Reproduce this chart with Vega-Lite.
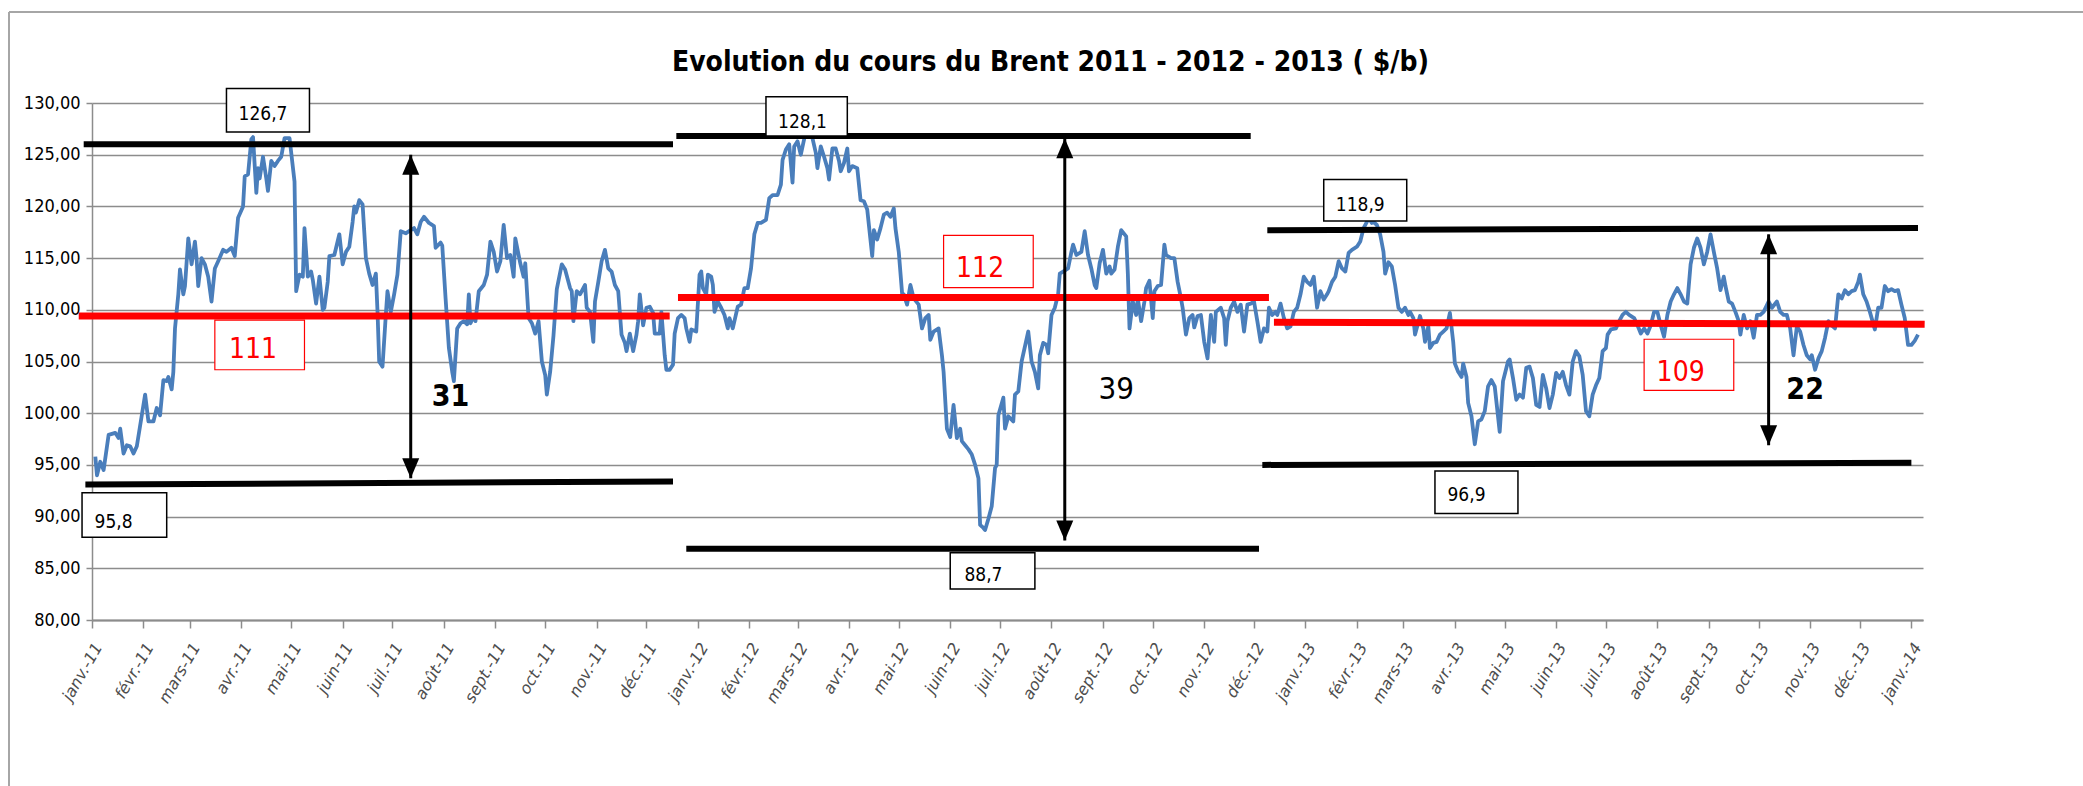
{
  "$schema": "https://vega.github.io/schema/vega-lite/v6.json",
  "width": 1831,
  "height": 517,
  "autosize": {"type": "none"},
  "padding": {"left": 92, "top": 103, "right": 160, "bottom": 166},
  "background": "white",
  "title": {
    "text": "Evolution du cours du Brent 2011 - 2012 - 2013 ( $/b)",
    "font": "Liberation Sans Narrow, Arial Narrow, DejaVu Sans Condensed, sans-serif",
    "fontSize": 28,
    "fontWeight": "bold",
    "color": "black",
    "anchor": "middle",
    "frame": "group",
    "dx": 43,
    "dy": 80,
    "offset": 14
  },
  "config": {
    "view": {"stroke": null}
  },
  "datasets": {
    "brent": [
      {"d":"2011-01-03","v":95.8},{"d":"2011-01-04","v":94.0},{"d":"2011-01-06","v":95.3},{"d":"2011-01-08","v":94.5},{"d":"2011-01-11","v":97.9},{"d":"2011-01-15","v":98.1},{"d":"2011-01-17","v":97.6},{"d":"2011-01-18","v":98.5},{"d":"2011-01-20","v":96.1},{"d":"2011-01-22","v":96.9},{"d":"2011-01-24","v":96.8},{"d":"2011-01-26","v":96.1},{"d":"2011-01-28","v":96.8},{"d":"2011-01-31","v":99.8},
      {"d":"2011-02-02","v":101.8},{"d":"2011-02-04","v":99.2},{"d":"2011-02-07","v":99.2},{"d":"2011-02-09","v":100.5},{"d":"2011-02-11","v":99.8},{"d":"2011-02-13","v":103.2},{"d":"2011-02-15","v":103.1},{"d":"2011-02-16","v":103.5},{"d":"2011-02-18","v":102.3},{"d":"2011-02-19","v":104.0},{"d":"2011-02-20","v":108.2},{"d":"2011-02-22","v":111.5},{"d":"2011-02-23","v":113.9},{"d":"2011-02-25","v":111.5},{"d":"2011-02-26","v":112.3},{"d":"2011-02-28","v":116.9},
      {"d":"2011-03-02","v":114.4},{"d":"2011-03-04","v":116.6},{"d":"2011-03-05","v":115.0},{"d":"2011-03-06","v":112.3},{"d":"2011-03-08","v":115.0},{"d":"2011-03-10","v":114.4},{"d":"2011-03-12","v":113.2},{"d":"2011-03-14","v":110.8},{"d":"2011-03-16","v":114.0},{"d":"2011-03-18","v":114.7},{"d":"2011-03-21","v":115.8},{"d":"2011-03-23","v":115.6},{"d":"2011-03-26","v":116.0},{"d":"2011-03-28","v":115.2},{"d":"2011-03-30","v":118.9},
      {"d":"2011-04-02","v":120.0},{"d":"2011-04-03","v":122.9},{"d":"2011-04-05","v":123.1},{"d":"2011-04-07","v":126.5},{"d":"2011-04-08","v":126.7},{"d":"2011-04-10","v":121.3},{"d":"2011-04-11","v":123.7},{"d":"2011-04-12","v":122.7},{"d":"2011-04-14","v":124.8},{"d":"2011-04-16","v":122.7},{"d":"2011-04-17","v":121.5},{"d":"2011-04-19","v":124.4},{"d":"2011-04-21","v":123.9},{"d":"2011-04-23","v":124.4},{"d":"2011-04-25","v":124.8},{"d":"2011-04-27","v":126.6},{"d":"2011-04-30","v":126.6},
      {"d":"2011-05-03","v":122.4},{"d":"2011-05-04","v":111.8},{"d":"2011-05-06","v":113.4},{"d":"2011-05-08","v":113.2},{"d":"2011-05-09","v":117.9},{"d":"2011-05-11","v":113.2},{"d":"2011-05-13","v":113.7},{"d":"2011-05-14","v":112.9},{"d":"2011-05-16","v":110.6},{"d":"2011-05-18","v":113.2},{"d":"2011-05-20","v":110.0},{"d":"2011-05-21","v":110.2},{"d":"2011-05-23","v":112.7},{"d":"2011-05-24","v":115.2},{"d":"2011-05-27","v":115.3},{"d":"2011-05-30","v":117.3},
      {"d":"2011-06-01","v":114.4},{"d":"2011-06-03","v":115.6},{"d":"2011-06-05","v":116.1},{"d":"2011-06-07","v":118.5},{"d":"2011-06-08","v":120.0},{"d":"2011-06-09","v":119.4},{"d":"2011-06-11","v":120.6},{"d":"2011-06-13","v":120.2},{"d":"2011-06-15","v":115.0},{"d":"2011-06-17","v":113.5},{"d":"2011-06-19","v":112.4},{"d":"2011-06-21","v":113.5},{"d":"2011-06-22","v":109.8},{"d":"2011-06-23","v":105.0},{"d":"2011-06-25","v":104.5},{"d":"2011-06-27","v":109.5},{"d":"2011-06-28","v":111.8},{"d":"2011-06-30","v":109.8},
      {"d":"2011-07-02","v":111.5},{"d":"2011-07-04","v":113.4},{"d":"2011-07-06","v":117.6},{"d":"2011-07-09","v":117.4},{"d":"2011-07-11","v":117.6},{"d":"2011-07-14","v":117.9},{"d":"2011-07-16","v":117.3},{"d":"2011-07-18","v":118.5},{"d":"2011-07-20","v":119.0},{"d":"2011-07-23","v":118.4},{"d":"2011-07-26","v":118.1},{"d":"2011-07-27","v":116.0},{"d":"2011-07-30","v":116.5},{"d":"2011-07-31","v":116.2},
      {"d":"2011-08-02","v":111.1},{"d":"2011-08-04","v":106.3},{"d":"2011-08-06","v":104.0},{"d":"2011-08-07","v":103.1},{"d":"2011-08-09","v":108.2},{"d":"2011-08-11","v":108.7},{"d":"2011-08-13","v":108.9},{"d":"2011-08-15","v":108.6},{"d":"2011-08-16","v":111.5},{"d":"2011-08-17","v":108.7},{"d":"2011-08-19","v":109.4},{"d":"2011-08-20","v":108.9},{"d":"2011-08-22","v":111.8},{"d":"2011-08-25","v":112.4},{"d":"2011-08-27","v":113.4},{"d":"2011-08-29","v":116.6},{"d":"2011-08-31","v":115.6},
      {"d":"2011-09-02","v":113.7},{"d":"2011-09-04","v":114.7},{"d":"2011-09-06","v":118.2},{"d":"2011-09-08","v":115.0},{"d":"2011-09-10","v":115.3},{"d":"2011-09-12","v":113.2},{"d":"2011-09-13","v":116.9},{"d":"2011-09-16","v":114.5},{"d":"2011-09-18","v":113.2},{"d":"2011-09-19","v":114.5},{"d":"2011-09-21","v":109.2},{"d":"2011-09-23","v":108.7},{"d":"2011-09-25","v":107.7},{"d":"2011-09-27","v":108.9},{"d":"2011-09-29","v":105.0},
      {"d":"2011-10-01","v":103.7},{"d":"2011-10-02","v":101.8},{"d":"2011-10-04","v":104.0},{"d":"2011-10-06","v":107.5},{"d":"2011-10-08","v":112.0},{"d":"2011-10-11","v":114.4},{"d":"2011-10-13","v":113.9},{"d":"2011-10-16","v":112.1},{"d":"2011-10-17","v":111.8},{"d":"2011-10-18","v":108.9},{"d":"2011-10-20","v":111.8},{"d":"2011-10-22","v":111.5},{"d":"2011-10-25","v":112.4},{"d":"2011-10-26","v":110.2},{"d":"2011-10-28","v":109.8},{"d":"2011-10-30","v":106.9},{"d":"2011-10-31","v":110.8},
      {"d":"2011-11-02","v":112.7},{"d":"2011-11-04","v":114.7},{"d":"2011-11-06","v":115.8},{"d":"2011-11-08","v":114.0},{"d":"2011-11-10","v":113.7},{"d":"2011-11-12","v":112.4},{"d":"2011-11-14","v":111.8},{"d":"2011-11-16","v":107.6},{"d":"2011-11-18","v":106.8},{"d":"2011-11-19","v":106.0},{"d":"2011-11-21","v":107.7},{"d":"2011-11-23","v":106.0},{"d":"2011-11-25","v":107.6},{"d":"2011-11-26","v":108.9},{"d":"2011-11-27","v":111.5},{"d":"2011-11-29","v":108.5},
      {"d":"2011-12-01","v":110.2},{"d":"2011-12-03","v":110.3},{"d":"2011-12-05","v":109.7},{"d":"2011-12-06","v":107.7},{"d":"2011-12-09","v":107.7},{"d":"2011-12-10","v":109.8},{"d":"2011-12-12","v":105.6},{"d":"2011-12-13","v":104.2},{"d":"2011-12-15","v":104.2},{"d":"2011-12-17","v":104.7},{"d":"2011-12-18","v":107.7},{"d":"2011-12-20","v":109.2},{"d":"2011-12-22","v":109.5},{"d":"2011-12-24","v":109.2},{"d":"2011-12-25","v":108.2},{"d":"2011-12-27","v":106.9},{"d":"2011-12-28","v":108.1},{"d":"2011-12-31","v":107.9},
      {"d":"2012-01-02","v":113.4},{"d":"2012-01-03","v":113.7},{"d":"2012-01-04","v":112.1},{"d":"2012-01-06","v":111.5},{"d":"2012-01-07","v":113.4},{"d":"2012-01-09","v":113.2},{"d":"2012-01-10","v":112.4},{"d":"2012-01-11","v":109.8},{"d":"2012-01-13","v":110.8},{"d":"2012-01-15","v":110.2},{"d":"2012-01-17","v":109.5},{"d":"2012-01-19","v":108.2},{"d":"2012-01-20","v":109.2},{"d":"2012-01-22","v":108.2},{"d":"2012-01-23","v":108.9},{"d":"2012-01-25","v":110.3},{"d":"2012-01-27","v":110.5},{"d":"2012-01-29","v":112.1},{"d":"2012-01-31","v":112.1},
      {"d":"2012-02-02","v":114.0},{"d":"2012-02-04","v":117.3},{"d":"2012-02-06","v":118.4},{"d":"2012-02-08","v":118.4},{"d":"2012-02-11","v":118.7},{"d":"2012-02-13","v":120.8},{"d":"2012-02-15","v":121.1},{"d":"2012-02-18","v":121.1},{"d":"2012-02-20","v":122.1},{"d":"2012-02-21","v":124.5},{"d":"2012-02-23","v":125.5},{"d":"2012-02-25","v":126.0},{"d":"2012-02-27","v":122.3},{"d":"2012-02-28","v":125.8},
      {"d":"2012-03-01","v":126.3},{"d":"2012-03-03","v":125.0},{"d":"2012-03-05","v":126.5},{"d":"2012-03-07","v":128.1},{"d":"2012-03-10","v":126.6},{"d":"2012-03-12","v":125.2},{"d":"2012-03-13","v":123.7},{"d":"2012-03-15","v":125.8},{"d":"2012-03-17","v":124.8},{"d":"2012-03-19","v":123.7},{"d":"2012-03-20","v":122.6},{"d":"2012-03-22","v":125.6},{"d":"2012-03-24","v":125.6},{"d":"2012-03-26","v":124.4},{"d":"2012-03-27","v":123.4},{"d":"2012-03-29","v":124.2},{"d":"2012-03-31","v":125.6},
      {"d":"2012-04-01","v":123.4},{"d":"2012-04-03","v":123.9},{"d":"2012-04-06","v":123.7},{"d":"2012-04-08","v":120.6},{"d":"2012-04-10","v":120.5},{"d":"2012-04-12","v":119.7},{"d":"2012-04-15","v":115.2},{"d":"2012-04-16","v":117.7},{"d":"2012-04-18","v":116.8},{"d":"2012-04-20","v":117.9},{"d":"2012-04-22","v":119.2},{"d":"2012-04-24","v":119.4},{"d":"2012-04-26","v":119.0},{"d":"2012-04-28","v":119.8},{"d":"2012-04-29","v":117.9},
      {"d":"2012-05-01","v":115.6},{"d":"2012-05-03","v":111.6},{"d":"2012-05-04","v":111.5},{"d":"2012-05-06","v":110.5},{"d":"2012-05-08","v":112.4},{"d":"2012-05-10","v":111.1},{"d":"2012-05-13","v":110.5},{"d":"2012-05-15","v":108.2},{"d":"2012-05-17","v":109.2},{"d":"2012-05-19","v":109.5},{"d":"2012-05-20","v":107.1},{"d":"2012-05-22","v":107.9},{"d":"2012-05-25","v":108.2},{"d":"2012-05-27","v":105.6},{"d":"2012-05-28","v":104.0},{"d":"2012-05-30","v":98.5},
      {"d":"2012-06-01","v":97.7},{"d":"2012-06-03","v":100.8},{"d":"2012-06-05","v":97.6},{"d":"2012-06-07","v":98.5},{"d":"2012-06-08","v":97.3},{"d":"2012-06-10","v":96.9},{"d":"2012-06-12","v":96.5},{"d":"2012-06-14","v":96.0},{"d":"2012-06-16","v":95.0},{"d":"2012-06-18","v":93.7},{"d":"2012-06-19","v":89.2},{"d":"2012-06-21","v":88.9},{"d":"2012-06-22","v":88.7},{"d":"2012-06-24","v":89.8},{"d":"2012-06-26","v":91.0},{"d":"2012-06-28","v":94.7},{"d":"2012-06-29","v":95.0},{"d":"2012-06-30","v":99.8},
      {"d":"2012-07-03","v":101.5},{"d":"2012-07-04","v":98.5},{"d":"2012-07-06","v":99.7},{"d":"2012-07-09","v":99.2},{"d":"2012-07-10","v":101.8},{"d":"2012-07-12","v":102.1},{"d":"2012-07-14","v":105.0},{"d":"2012-07-18","v":107.9},{"d":"2012-07-20","v":105.0},{"d":"2012-07-22","v":104.0},{"d":"2012-07-24","v":102.4},{"d":"2012-07-25","v":105.6},{"d":"2012-07-27","v":106.8},{"d":"2012-07-29","v":106.6},{"d":"2012-07-30","v":105.8},
      {"d":"2012-08-01","v":109.5},{"d":"2012-08-03","v":110.2},{"d":"2012-08-05","v":111.5},{"d":"2012-08-06","v":113.5},{"d":"2012-08-08","v":113.7},{"d":"2012-08-11","v":114.0},{"d":"2012-08-13","v":115.6},{"d":"2012-08-14","v":116.3},{"d":"2012-08-16","v":115.3},{"d":"2012-08-19","v":115.6},{"d":"2012-08-21","v":117.6},{"d":"2012-08-23","v":115.3},{"d":"2012-08-25","v":114.0},{"d":"2012-08-27","v":112.4},{"d":"2012-08-28","v":112.1},{"d":"2012-08-30","v":114.5},
      {"d":"2012-09-01","v":115.8},{"d":"2012-09-03","v":113.5},{"d":"2012-09-05","v":114.2},{"d":"2012-09-06","v":113.5},{"d":"2012-09-08","v":113.9},{"d":"2012-09-10","v":116.1},{"d":"2012-09-12","v":117.7},{"d":"2012-09-15","v":117.1},{"d":"2012-09-16","v":113.5},{"d":"2012-09-17","v":108.2},{"d":"2012-09-19","v":110.8},{"d":"2012-09-21","v":109.5},{"d":"2012-09-22","v":111.1},{"d":"2012-09-24","v":108.9},{"d":"2012-09-26","v":110.8},{"d":"2012-09-27","v":112.1},{"d":"2012-09-29","v":112.8},
      {"d":"2012-10-01","v":109.2},{"d":"2012-10-02","v":111.8},{"d":"2012-10-04","v":112.3},{"d":"2012-10-06","v":112.4},{"d":"2012-10-08","v":116.3},{"d":"2012-10-09","v":115.3},{"d":"2012-10-12","v":115.0},{"d":"2012-10-14","v":115.0},{"d":"2012-10-16","v":112.7},{"d":"2012-10-18","v":111.1},{"d":"2012-10-19","v":110.2},{"d":"2012-10-21","v":107.6},{"d":"2012-10-23","v":109.2},{"d":"2012-10-25","v":109.5},{"d":"2012-10-26","v":108.3},{"d":"2012-10-28","v":109.4},{"d":"2012-10-30","v":109.5},
      {"d":"2012-11-01","v":106.9},{"d":"2012-11-03","v":105.3},{"d":"2012-11-05","v":109.5},{"d":"2012-11-07","v":106.9},{"d":"2012-11-08","v":109.8},{"d":"2012-11-11","v":110.2},{"d":"2012-11-13","v":109.2},{"d":"2012-11-14","v":106.6},{"d":"2012-11-15","v":108.9},{"d":"2012-11-17","v":110.2},{"d":"2012-11-19","v":110.8},{"d":"2012-11-21","v":109.8},{"d":"2012-11-23","v":110.5},{"d":"2012-11-25","v":107.9},{"d":"2012-11-27","v":110.5},{"d":"2012-11-29","v":110.6},
      {"d":"2012-12-01","v":110.8},{"d":"2012-12-03","v":108.9},{"d":"2012-12-05","v":106.9},{"d":"2012-12-07","v":108.2},{"d":"2012-12-09","v":107.9},{"d":"2012-12-10","v":110.2},{"d":"2012-12-12","v":109.5},{"d":"2012-12-14","v":109.8},{"d":"2012-12-15","v":109.5},{"d":"2012-12-17","v":110.6},{"d":"2012-12-19","v":109.2},{"d":"2012-12-21","v":108.2},{"d":"2012-12-23","v":108.4},{"d":"2012-12-25","v":109.8},{"d":"2012-12-27","v":110.2},{"d":"2012-12-29","v":111.5},{"d":"2012-12-31","v":113.2},
      {"d":"2013-01-02","v":112.7},{"d":"2013-01-04","v":112.4},{"d":"2013-01-06","v":113.2},{"d":"2013-01-08","v":110.2},{"d":"2013-01-10","v":111.8},{"d":"2013-01-12","v":111.0},{"d":"2013-01-14","v":111.5},{"d":"2013-01-15","v":111.8},{"d":"2013-01-17","v":112.7},{"d":"2013-01-19","v":113.2},{"d":"2013-01-21","v":114.7},{"d":"2013-01-23","v":114.0},{"d":"2013-01-25","v":113.7},{"d":"2013-01-27","v":115.5},{"d":"2013-01-29","v":115.8},
      {"d":"2013-02-01","v":116.1},{"d":"2013-02-03","v":116.6},{"d":"2013-02-05","v":117.9},{"d":"2013-02-07","v":118.5},{"d":"2013-02-08","v":118.9},{"d":"2013-02-10","v":118.4},{"d":"2013-02-11","v":118.5},{"d":"2013-02-13","v":118.2},{"d":"2013-02-15","v":117.3},{"d":"2013-02-17","v":115.6},{"d":"2013-02-18","v":113.5},{"d":"2013-02-20","v":114.6},{"d":"2013-02-22","v":114.2},{"d":"2013-02-24","v":112.4},{"d":"2013-02-26","v":110.2},{"d":"2013-02-28","v":109.8},
      {"d":"2013-03-02","v":110.2},{"d":"2013-03-04","v":109.5},{"d":"2013-03-05","v":109.8},{"d":"2013-03-07","v":109.2},{"d":"2013-03-08","v":107.6},{"d":"2013-03-11","v":109.4},{"d":"2013-03-13","v":108.2},{"d":"2013-03-14","v":106.9},{"d":"2013-03-16","v":108.4},{"d":"2013-03-17","v":106.3},{"d":"2013-03-19","v":106.8},{"d":"2013-03-21","v":106.9},{"d":"2013-03-23","v":107.6},{"d":"2013-03-25","v":107.9},{"d":"2013-03-27","v":108.2},{"d":"2013-03-29","v":109.7},{"d":"2013-03-31","v":106.9},
      {"d":"2013-04-01","v":104.8},{"d":"2013-04-03","v":104.0},{"d":"2013-04-05","v":103.5},{"d":"2013-04-06","v":104.8},{"d":"2013-04-08","v":103.5},{"d":"2013-04-09","v":101.0},{"d":"2013-04-11","v":99.7},{"d":"2013-04-13","v":97.0},{"d":"2013-04-15","v":99.2},{"d":"2013-04-17","v":99.4},{"d":"2013-04-19","v":100.2},{"d":"2013-04-21","v":102.6},{"d":"2013-04-23","v":103.2},{"d":"2013-04-25","v":102.6},{"d":"2013-04-28","v":98.2},{"d":"2013-04-30","v":103.1},
      {"d":"2013-05-03","v":105.0},{"d":"2013-05-04","v":105.2},{"d":"2013-05-06","v":103.4},{"d":"2013-05-08","v":101.3},{"d":"2013-05-10","v":101.8},{"d":"2013-05-12","v":101.5},{"d":"2013-05-14","v":104.4},{"d":"2013-05-16","v":104.5},{"d":"2013-05-18","v":103.4},{"d":"2013-05-20","v":100.8},{"d":"2013-05-22","v":100.6},{"d":"2013-05-24","v":103.7},{"d":"2013-05-26","v":102.4},{"d":"2013-05-28","v":100.5},{"d":"2013-05-30","v":101.8},
      {"d":"2013-06-01","v":103.9},{"d":"2013-06-03","v":103.4},{"d":"2013-06-05","v":104.0},{"d":"2013-06-07","v":102.7},{"d":"2013-06-09","v":101.8},{"d":"2013-06-11","v":105.0},{"d":"2013-06-13","v":106.0},{"d":"2013-06-15","v":105.5},{"d":"2013-06-17","v":103.7},{"d":"2013-06-19","v":100.2},{"d":"2013-06-21","v":99.7},{"d":"2013-06-23","v":101.8},{"d":"2013-06-25","v":102.7},{"d":"2013-06-27","v":103.4},{"d":"2013-06-29","v":106.0},
      {"d":"2013-07-01","v":106.3},{"d":"2013-07-02","v":107.6},{"d":"2013-07-04","v":108.1},{"d":"2013-07-07","v":108.2},{"d":"2013-07-09","v":108.9},{"d":"2013-07-11","v":109.5},{"d":"2013-07-13","v":109.8},{"d":"2013-07-15","v":109.5},{"d":"2013-07-18","v":109.2},{"d":"2013-07-20","v":108.5},{"d":"2013-07-22","v":107.7},{"d":"2013-07-24","v":108.2},{"d":"2013-07-26","v":107.7},{"d":"2013-07-28","v":108.5},{"d":"2013-07-30","v":109.8},
      {"d":"2013-08-01","v":109.8},{"d":"2013-08-03","v":108.5},{"d":"2013-08-05","v":107.4},{"d":"2013-08-07","v":109.5},{"d":"2013-08-09","v":110.8},{"d":"2013-08-11","v":111.5},{"d":"2013-08-13","v":112.1},{"d":"2013-08-15","v":111.5},{"d":"2013-08-17","v":110.8},{"d":"2013-08-19","v":110.6},{"d":"2013-08-21","v":114.4},{"d":"2013-08-23","v":116.0},{"d":"2013-08-25","v":116.9},{"d":"2013-08-27","v":116.0},{"d":"2013-08-29","v":114.4},{"d":"2013-08-31","v":115.6},
      {"d":"2013-09-02","v":117.3},{"d":"2013-09-04","v":115.6},{"d":"2013-09-06","v":114.0},{"d":"2013-09-08","v":111.9},{"d":"2013-09-10","v":113.2},{"d":"2013-09-11","v":112.3},{"d":"2013-09-13","v":110.8},{"d":"2013-09-15","v":110.6},{"d":"2013-09-17","v":109.8},{"d":"2013-09-19","v":108.9},{"d":"2013-09-20","v":107.6},{"d":"2013-09-22","v":109.5},{"d":"2013-09-24","v":108.2},{"d":"2013-09-26","v":108.9},{"d":"2013-09-28","v":107.3},{"d":"2013-09-30","v":109.5},
      {"d":"2013-10-02","v":109.5},{"d":"2013-10-04","v":109.8},{"d":"2013-10-07","v":110.8},{"d":"2013-10-09","v":110.2},{"d":"2013-10-12","v":110.8},{"d":"2013-10-14","v":109.8},{"d":"2013-10-16","v":109.5},{"d":"2013-10-18","v":109.5},{"d":"2013-10-20","v":108.2},{"d":"2013-10-22","v":105.6},{"d":"2013-10-24","v":108.4},{"d":"2013-10-26","v":107.9},{"d":"2013-10-28","v":106.6},{"d":"2013-10-30","v":105.6},
      {"d":"2013-11-01","v":105.2},{"d":"2013-11-02","v":105.6},{"d":"2013-11-04","v":104.2},{"d":"2013-11-06","v":105.3},{"d":"2013-11-08","v":106.0},{"d":"2013-11-10","v":107.3},{"d":"2013-11-12","v":108.9},{"d":"2013-11-14","v":108.5},{"d":"2013-11-16","v":108.2},{"d":"2013-11-18","v":111.5},{"d":"2013-11-20","v":111.1},{"d":"2013-11-22","v":111.9},{"d":"2013-11-24","v":111.5},{"d":"2013-11-26","v":111.8},{"d":"2013-11-28","v":111.9},{"d":"2013-11-30","v":112.7},
      {"d":"2013-12-01","v":113.4},{"d":"2013-12-03","v":111.5},{"d":"2013-12-05","v":110.8},{"d":"2013-12-07","v":109.8},{"d":"2013-12-10","v":108.1},{"d":"2013-12-12","v":110.2},{"d":"2013-12-14","v":110.2},{"d":"2013-12-16","v":112.3},{"d":"2013-12-18","v":111.8},{"d":"2013-12-20","v":112.0},{"d":"2013-12-22","v":111.8},{"d":"2013-12-24","v":111.9},{"d":"2013-12-26","v":110.5},{"d":"2013-12-28","v":109.2},{"d":"2013-12-30","v":106.6},
      {"d":"2014-01-01","v":106.6},{"d":"2014-01-03","v":107.0},{"d":"2014-01-05","v":107.6}
    ],
    "blackLines": [
      {"x1":"2010-12-27","x2":"2011-12-17","y1":126.0,"y2":126.0},
      {"x1":"2010-12-28","x2":"2011-12-17","y1":93.1,"y2":93.4},
      {"x1":"2011-12-19","x2":"2012-11-29","y1":126.8,"y2":126.8},
      {"x1":"2011-12-25","x2":"2012-12-04","y1":86.9,"y2":86.9},
      {"x1":"2012-12-09","x2":"2014-01-05","y1":117.7,"y2":117.9},
      {"x1":"2012-12-06","x2":"2014-01-01","y1":95.0,"y2":95.2}
    ],
    "redLines": [
      {"x1":"2010-12-24","x2":"2011-12-15","y1":109.4,"y2":109.4},
      {"x1":"2011-12-20","x2":"2012-12-10","y1":111.2,"y2":111.2},
      {"x1":"2012-12-13","x2":"2014-01-09","y1":108.8,"y2":108.6}
    ],
    "frame": [
      {"x1":"2010-11-12","x2":"2014-04-20","y1":138.8,"y2":138.8},
      {"x1":"2010-11-12","x2":"2010-11-12","y1":138.8,"y2":60}
    ],
    "arrows": [
      {"d":"2011-07-12","top":125.0,"bottom":93.7},
      {"d":"2012-08-09","top":126.6,"bottom":87.7},
      {"d":"2013-10-07","top":117.3,"bottom":96.9}
    ],
    "blackBoxes": [
      {"x1":"2011-03-23","x2":"2011-05-12","y1":131.4,"y2":127.2,"t":"126,7","td":"2011-04-14","tv":128.9},
      {"x1":"2010-12-26","x2":"2011-02-15","y1":92.3,"y2":88.0,"t":"95,8","td":"2011-01-14","tv":89.5},
      {"x1":"2012-02-11","x2":"2012-03-31","y1":130.6,"y2":126.8,"t":"128,1","td":"2012-03-04","tv":128.2},
      {"x1":"2012-06-01","x2":"2012-07-22","y1":86.5,"y2":83.0,"t":"88,7","td":"2012-06-21","tv":84.4},
      {"x1":"2013-01-12","x2":"2013-03-03","y1":122.6,"y2":118.6,"t":"118,9","td":"2013-02-03","tv":120.1},
      {"x1":"2013-03-20","x2":"2013-05-09","y1":94.4,"y2":90.3,"t":"96,9","td":"2013-04-08","tv":92.1}
    ],
    "redBoxes": [
      {"x1":"2011-03-16","x2":"2011-05-09","y1":109.0,"y2":104.2,"t":"111","td":"2011-04-08","tv":106.1},
      {"x1":"2012-05-28","x2":"2012-07-21","y1":117.2,"y2":112.15,"t":"112","td":"2012-06-19","tv":113.9},
      {"x1":"2013-07-24","x2":"2013-09-16","y1":107.15,"y2":102.2,"t":"109","td":"2013-08-15","tv":103.9}
    ],
    "ranges": [
      {"d":"2011-08-05","v":101.6,"t":"31","w":"bold"},
      {"d":"2012-09-09","v":102.25,"t":"39","w":"normal"},
      {"d":"2013-10-29","v":102.25,"t":"22","w":"bold"}
    ]
  },
  "layer": [
    {
      "data": {"name": "brent"},
      "mark": {"type": "line", "color": "#4a7ebb", "strokeWidth": 3.8, "strokeJoin": "round"},
      "encoding": {
        "x": {
          "field": "d", "type": "temporal", "title": null,
          "scale": {"type": "utc", "domain": [{"year": 2011, "month": 1, "date": 1, "utc": true}, {"year": 2014, "month": 1, "date": 8, "utc": true}]},
          "axis": {
            "values": [
              {"year":2011,"month":1,"date":1,"utc":true},{"year":2011,"month":2,"date":1,"utc":true},{"year":2011,"month":3,"date":1,"utc":true},{"year":2011,"month":4,"date":1,"utc":true},{"year":2011,"month":5,"date":1,"utc":true},{"year":2011,"month":6,"date":1,"utc":true},{"year":2011,"month":7,"date":1,"utc":true},{"year":2011,"month":8,"date":1,"utc":true},{"year":2011,"month":9,"date":1,"utc":true},{"year":2011,"month":10,"date":1,"utc":true},{"year":2011,"month":11,"date":1,"utc":true},{"year":2011,"month":12,"date":1,"utc":true},
              {"year":2012,"month":1,"date":1,"utc":true},{"year":2012,"month":2,"date":1,"utc":true},{"year":2012,"month":3,"date":1,"utc":true},{"year":2012,"month":4,"date":1,"utc":true},{"year":2012,"month":5,"date":1,"utc":true},{"year":2012,"month":6,"date":1,"utc":true},{"year":2012,"month":7,"date":1,"utc":true},{"year":2012,"month":8,"date":1,"utc":true},{"year":2012,"month":9,"date":1,"utc":true},{"year":2012,"month":10,"date":1,"utc":true},{"year":2012,"month":11,"date":1,"utc":true},{"year":2012,"month":12,"date":1,"utc":true},
              {"year":2013,"month":1,"date":1,"utc":true},{"year":2013,"month":2,"date":1,"utc":true},{"year":2013,"month":3,"date":1,"utc":true},{"year":2013,"month":4,"date":1,"utc":true},{"year":2013,"month":5,"date":1,"utc":true},{"year":2013,"month":6,"date":1,"utc":true},{"year":2013,"month":7,"date":1,"utc":true},{"year":2013,"month":8,"date":1,"utc":true},{"year":2013,"month":9,"date":1,"utc":true},{"year":2013,"month":10,"date":1,"utc":true},{"year":2013,"month":11,"date":1,"utc":true},{"year":2013,"month":12,"date":1,"utc":true},
              {"year":2014,"month":1,"date":1,"utc":true}
            ],
            "labelExpr": "['janv.','févr.','mars','avr.','mai','juin','juil.','août','sept.','oct.','nov.','déc.'][utcmonth(datum.value)] + '-' + utcFormat(datum.value, '%y')",
            "grid": false,
            "domainColor": "#8c8c8c", "domainWidth": 2,
            "tickColor": "#8c8c8c", "tickWidth": 1.5, "tickSize": 8,
            "labelAngle": -60, "labelAlign": "right", "labelBaseline": "middle",
            "labelPadding": 16, "labelOffset": 6, "labelFont": "DejaVu Sans", "labelFontSize": 16, "labelFontStyle": "italic",
            "labelColor": "#4d4d4d", "labelOverlap": false, "labelFlush": false, "labelBound": false
          }
        },
        "y": {
          "field": "v", "type": "quantitative", "title": null,
          "scale": {"domain": [80, 130], "nice": false, "zero": false},
          "axis": {
            "values": [80, 85, 90, 95, 100, 105, 110, 115, 120, 125, 130],
            "labelExpr": "replace(format(datum.value, '.2f'), '.', ',')",
            "grid": true, "gridColor": "#8c8c8c", "gridWidth": 1.5,
            "domainColor": "#8c8c8c", "domainWidth": 1.5,
            "tickColor": "#8c8c8c", "tickWidth": 1.5, "tickSize": 6,
            "labelFont": "Liberation Sans Narrow, Arial Narrow, DejaVu Sans Condensed, sans-serif",
            "labelFontSize": 18, "labelColor": "black", "labelPadding": 6
          }
        }
      }
    },
    {
      "data": {"name": "frame"},
      "mark": {"type": "rule", "color": "#a6a6a6", "strokeWidth": 2},
      "encoding": {
        "x": {"field": "x1", "type": "temporal", "title": null},
        "x2": {"field": "x2"},
        "y": {"field": "y1", "type": "quantitative", "title": null},
        "y2": {"field": "y2"}
      }
    },
    {
      "data": {"name": "blackLines"},
      "mark": {"type": "rule", "color": "black", "strokeWidth": 6},
      "encoding": {
        "x": {"field": "x1", "type": "temporal", "title": null},
        "x2": {"field": "x2"},
        "y": {"field": "y1", "type": "quantitative", "title": null},
        "y2": {"field": "y2"}
      }
    },
    {
      "data": {"name": "redLines"},
      "mark": {"type": "rule", "color": "#ff0000", "strokeWidth": 7},
      "encoding": {
        "x": {"field": "x1", "type": "temporal", "title": null},
        "x2": {"field": "x2"},
        "y": {"field": "y1", "type": "quantitative", "title": null},
        "y2": {"field": "y2"}
      }
    },
    {
      "data": {"name": "arrows"},
      "mark": {"type": "rule", "color": "black", "strokeWidth": 3},
      "encoding": {
        "x": {"field": "d", "type": "temporal", "title": null},
        "y": {"field": "top", "type": "quantitative", "title": null},
        "y2": {"field": "bottom"}
      }
    },
    {
      "data": {"name": "arrows"},
      "mark": {"type": "point", "shape": "M0,0L0.85,2L-0.85,2Z", "size": 400, "filled": true, "color": "black", "opacity": 1, "strokeWidth": 0},
      "encoding": {
        "x": {"field": "d", "type": "temporal", "title": null},
        "y": {"field": "top", "type": "quantitative", "title": null}
      }
    },
    {
      "data": {"name": "arrows"},
      "mark": {"type": "point", "shape": "M0,0L0.85,-2L-0.85,-2Z", "size": 400, "filled": true, "color": "black", "opacity": 1, "strokeWidth": 0},
      "encoding": {
        "x": {"field": "d", "type": "temporal", "title": null},
        "y": {"field": "bottom", "type": "quantitative", "title": null}
      }
    },
    {
      "data": {"name": "blackBoxes"},
      "mark": {"type": "rect", "fill": "white", "stroke": "black", "strokeWidth": 1.5},
      "encoding": {
        "x": {"field": "x1", "type": "temporal", "title": null},
        "x2": {"field": "x2"},
        "y": {"field": "y1", "type": "quantitative", "title": null},
        "y2": {"field": "y2"}
      }
    },
    {
      "data": {"name": "redBoxes"},
      "mark": {"type": "rect", "fill": "white", "stroke": "#ff0000", "strokeWidth": 1.2},
      "encoding": {
        "x": {"field": "x1", "type": "temporal", "title": null},
        "x2": {"field": "x2"},
        "y": {"field": "y1", "type": "quantitative", "title": null},
        "y2": {"field": "y2"}
      }
    },
    {
      "data": {"name": "blackBoxes"},
      "mark": {"type": "text", "font": "Liberation Sans Narrow, Arial Narrow, DejaVu Sans Condensed, sans-serif", "fontSize": 19, "color": "black", "align": "center", "baseline": "middle"},
      "encoding": {
        "x": {"field": "td", "type": "temporal", "title": null},
        "y": {"field": "tv", "type": "quantitative", "title": null},
        "text": {"field": "t"}
      }
    },
    {
      "data": {"name": "redBoxes"},
      "mark": {"type": "text", "font": "Liberation Sans Narrow, Arial Narrow, DejaVu Sans Condensed, sans-serif", "fontSize": 28, "color": "#ff0000", "align": "center", "baseline": "middle"},
      "encoding": {
        "x": {"field": "td", "type": "temporal", "title": null},
        "y": {"field": "tv", "type": "quantitative", "title": null},
        "text": {"field": "t"}
      }
    },
    {
      "data": {"name": "ranges"},
      "transform": [{"filter": "datum.w == 'bold'"}],
      "mark": {"type": "text", "font": "Liberation Sans Narrow, Arial Narrow, DejaVu Sans Condensed, sans-serif", "fontSize": 30, "fontWeight": "bold", "color": "black", "align": "center", "baseline": "middle"},
      "encoding": {
        "x": {"field": "d", "type": "temporal", "title": null},
        "y": {"field": "v", "type": "quantitative", "title": null},
        "text": {"field": "t"}
      }
    },
    {
      "data": {"name": "ranges"},
      "transform": [{"filter": "datum.w == 'normal'"}],
      "mark": {"type": "text", "font": "Liberation Sans Narrow, Arial Narrow, DejaVu Sans Condensed, sans-serif", "fontSize": 31, "color": "black", "align": "center", "baseline": "middle"},
      "encoding": {
        "x": {"field": "d", "type": "temporal", "title": null},
        "y": {"field": "v", "type": "quantitative", "title": null},
        "text": {"field": "t"}
      }
    }
  ]
}
